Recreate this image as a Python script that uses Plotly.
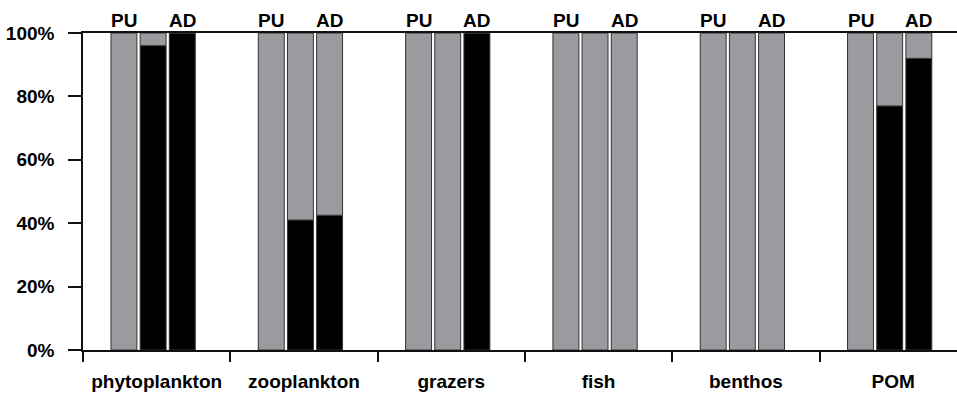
import plotly.graph_objects as go

# ---- data (percent of the black fraction; grey fills up to 100%) ----
categories = ["phytoplankton", "zooplankton", "grazers", "fish", "benthos", "POM"]
pu_black = [0, 0, 0, 0, 0, 0]
mid_black = [96, 41, 0, 0, 0, 77]
ad_black = [100, 42.5, 100, 0, 0, 92]
slot_labels = ["PU", "", "AD"]
y_ticks = [0, 20, 40, 60, 80, 100]

# ---- styling ----
GREY = "#9b9a9f"
BLACK = "#000000"
EDGE = "#333333"
FONT = "Liberation Sans, Arial, sans-serif"
FS = 19
bar_width = 0.176
slot_centers = [-0.222, -0.024, 0.174]

fig = go.Figure()
for k, blk in enumerate([pu_black, mid_black, ad_black]):
    off = slot_centers[k] - bar_width / 2
    grey = [100 - b for b in blk]
    fig.add_bar(x=categories, y=blk, base=[0] * len(blk), offset=off, width=bar_width,
                marker=dict(color=BLACK, line=dict(color=EDGE, width=1)),
                hoverinfo="skip")
    fig.add_bar(x=categories, y=grey, base=blk, offset=off, width=bar_width,
                marker=dict(color=GREY, line=dict(color=EDGE, width=1)),
                hoverinfo="skip")

for i, _ in enumerate(categories):
    for k, lab in enumerate(slot_labels):
        if not lab:
            continue
        fig.add_annotation(x=i + slot_centers[k], y=100, xref="x", yref="y",
                           text=lab, showarrow=False, yanchor="bottom", yshift=0,
                           font=dict(family=FONT, size=FS, color="black", weight="bold"))

fig.update_layout(
    width=957, height=394,
    margin=dict(l=83, r=0, t=33, b=44),
    barmode="overlay",
    showlegend=False,
    plot_bgcolor="white", paper_bgcolor="white",
    font=dict(family=FONT, size=FS, color="black", weight="bold"),
)
fig.update_xaxes(
    type="category", range=[-0.5, 5.433],
    tickson="boundaries", ticks="outside", ticklen=10, tickwidth=1.5, tickcolor="#111",
    showline=True, linecolor="#111", linewidth=1.5, mirror=True,
    showgrid=False, zeroline=False, ticklabelstandoff=13,
    tickfont=dict(family=FONT, size=FS, color="black", weight="bold"),
)
fig.update_yaxes(
    range=[0, 100], tickvals=y_ticks, ticktext=[f"{v}%" for v in y_ticks],
    ticks="outside", ticklen=13, tickwidth=1.5, tickcolor="#111",
    showline=True, linecolor="#111", linewidth=1.5, mirror=False,
    showgrid=False, zeroline=False, ticklabelstandoff=10,
    tickfont=dict(family=FONT, size=FS, color="black", weight="bold"),
)

fig.write_html("out.html")
